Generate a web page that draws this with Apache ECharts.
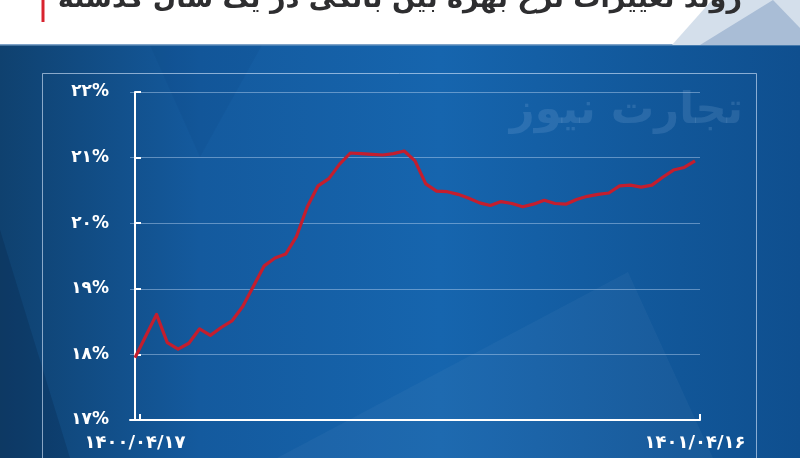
<!DOCTYPE html>
<html><head><meta charset="utf-8">
<script src="https://cdn.jsdelivr.net/npm/echarts@6/dist/echarts.min.js"></script>
<style>html,body{margin:0;padding:0;background:#fff}#c{width:800px;height:458px}</style>
</head><body><div id="c"></div>
<script>
const titleText = 'روند تغییرات نرخ بهره بین بانکی در یک سال گذشته';
const watermarkText = 'تجارت نیوز';
const dateLabels = ['۱۴۰۰/۰۴/۱۷', '۱۴۰۱/۰۴/۱۶'];
const yTickValues = [17, 18, 19, 20, 21, 22];
const yTickLabels = ['۱۷%', '۱۸%', '۱۹%', '۲۰%', '۲۱%', '۲۲%'];
const rateValues = [
  17.95, 18.28, 18.61, 18.18, 18.08, 18.17, 18.39, 18.29, 18.41, 18.51,
  18.73, 19.04, 19.35, 19.47, 19.53, 19.80, 20.25, 20.57, 20.68, 20.90,
  21.07, 21.06, 21.05, 21.04, 21.06, 21.10, 20.95, 20.60, 20.49, 20.48,
  20.44, 20.38, 20.31, 20.27, 20.33, 20.30, 20.25, 20.29, 20.35, 20.30,
  20.29, 20.36, 20.41, 20.44, 20.46, 20.57, 20.58, 20.55, 20.58, 20.70,
  20.81, 20.85, 20.95
];

const FONT = '"DejaVu Sans", sans-serif';
function fitSize(text, targetW, weight) {
  const ctx = document.createElement('canvas').getContext('2d');
  ctx.font = weight + ' 100px ' + FONT;
  return 100 * targetW / ctx.measureText(text).width;
}

const N = rateValues.length;
const gridLeft = 130, gridRight = 100, gridW = 800 - gridLeft - gridRight;
const padPx = 5;
const pad = padPx * (N - 1) / (gridW - 2 * padPx);

const chart = echarts.init(document.getElementById('c'), null, {renderer: 'canvas'});
const titleSize = fitSize(titleText, 684, 'bold');
const wmSize = fitSize(watermarkText, 233, 'bold');

chart.setOption({
  animation: false,
  backgroundColor: '#ffffff',
  grid: {left: gridLeft, right: gridRight, top: 92, bottom: 38},
  graphic: [
    {type: 'rect', z: -20, shape: {x: 0, y: 45, width: 800, height: 413},
      style: {fill: new echarts.graphic.LinearGradient(0, 0, 1, 0, [
        {offset: 0, color: '#0f416f'},
        {offset: 0.25, color: '#145a9e'},
        {offset: 0.55, color: '#1665ae'},
        {offset: 0.85, color: '#115698'},
        {offset: 1, color: '#0f4f8f'}
      ])}},
    {type: 'polygon', z: -19, shape: {points: [[0, 230], [70, 458], [0, 458]]},
      style: {fill: 'rgba(5,25,55,0.2)'}},
    {type: 'polygon', z: -19, shape: {points: [[150, 45], [200, 157], [262, 45]]},
      style: {fill: 'rgba(5,30,80,0.06)'}},
    {type: 'polygon', z: -19, shape: {points: [[628, 272], [713, 458], [277, 458]]},
      style: {fill: 'rgba(255,255,255,0.035)'}},
    {type: 'rect', z: -18, shape: {x: 0, y: 44, width: 800, height: 1.5},
      style: {fill: '#7fa3c8'}},
    {type: 'polygon', z: -17, shape: {points: [[672, 45], [712, 0], [800, 0], [800, 45]]},
      style: {fill: '#d4dfeb'}},
    {type: 'polygon', z: -16, shape: {points: [[700, 45], [773, 0], [800, 28], [800, 45]]},
      style: {fill: '#a9bdd6'}},
    {type: 'rect', z: -15, shape: {x: 41.5, y: 0, width: 3, height: 22},
      style: {fill: '#d8232f'}},
    {type: 'text', z: -15, x: 742, y: 0,
      style: {text: titleText, fill: '#2e2e30', font: 'bold ' + titleSize.toFixed(1) + 'px ' + FONT,
        align: 'right', verticalAlign: 'middle'}},
    {type: 'rect', z: -14, shape: {x: 42.5, y: 73.5, width: 714, height: 420},
      style: {fill: 'none', stroke: 'rgba(220,235,255,0.6)', lineWidth: 1}},
    {type: 'text', z: -14, x: 743, y: 112,
      style: {text: watermarkText, fill: 'rgba(200,225,255,0.13)', font: 'bold ' + wmSize.toFixed(1) + 'px ' + FONT,
        align: 'right', verticalAlign: 'middle'}}
  ],
  xAxis: {
    type: 'value', min: -pad, max: N - 1 + pad,
    splitLine: {show: false},
    axisLine: {show: true, lineStyle: {color: '#ffffff', width: 2}},
    axisTick: {show: true, inside: true, length: 6, customValues: [pad, N - 1 + pad],
      lineStyle: {color: '#ffffff', width: 2}},
    axisLabel: {customValues: [0, N - 1], margin: 14, color: '#ffffff',
      fontFamily: FONT, fontWeight: 'bold', fontSize: 18,
      formatter: v => (v < 1 ? dateLabels[0] : dateLabels[1])}
  },
  yAxis: {
    type: 'value', min: 17, max: 22, interval: 1,
    axisLine: {show: true, lineStyle: {color: '#ffffff', width: 2}},
    axisTick: {show: true, inside: true, length: 6, lineStyle: {color: '#ffffff', width: 2}},
    splitLine: {show: true, lineStyle: {color: 'rgba(190,215,245,0.45)', width: 1}},
    axisLabel: {margin: 21, color: '#ffffff', fontFamily: FONT, fontWeight: 'bold', fontSize: 17,
      formatter: v => yTickLabels[yTickValues.indexOf(v)]}
  },
  series: [{
    type: 'line', symbol: 'none', z: 5,
    data: rateValues.map((v, i) => [i, v]),
    lineStyle: {color: '#c41e2e', width: 3.2, join: 'round'}
  }]
});
</script></body></html>
